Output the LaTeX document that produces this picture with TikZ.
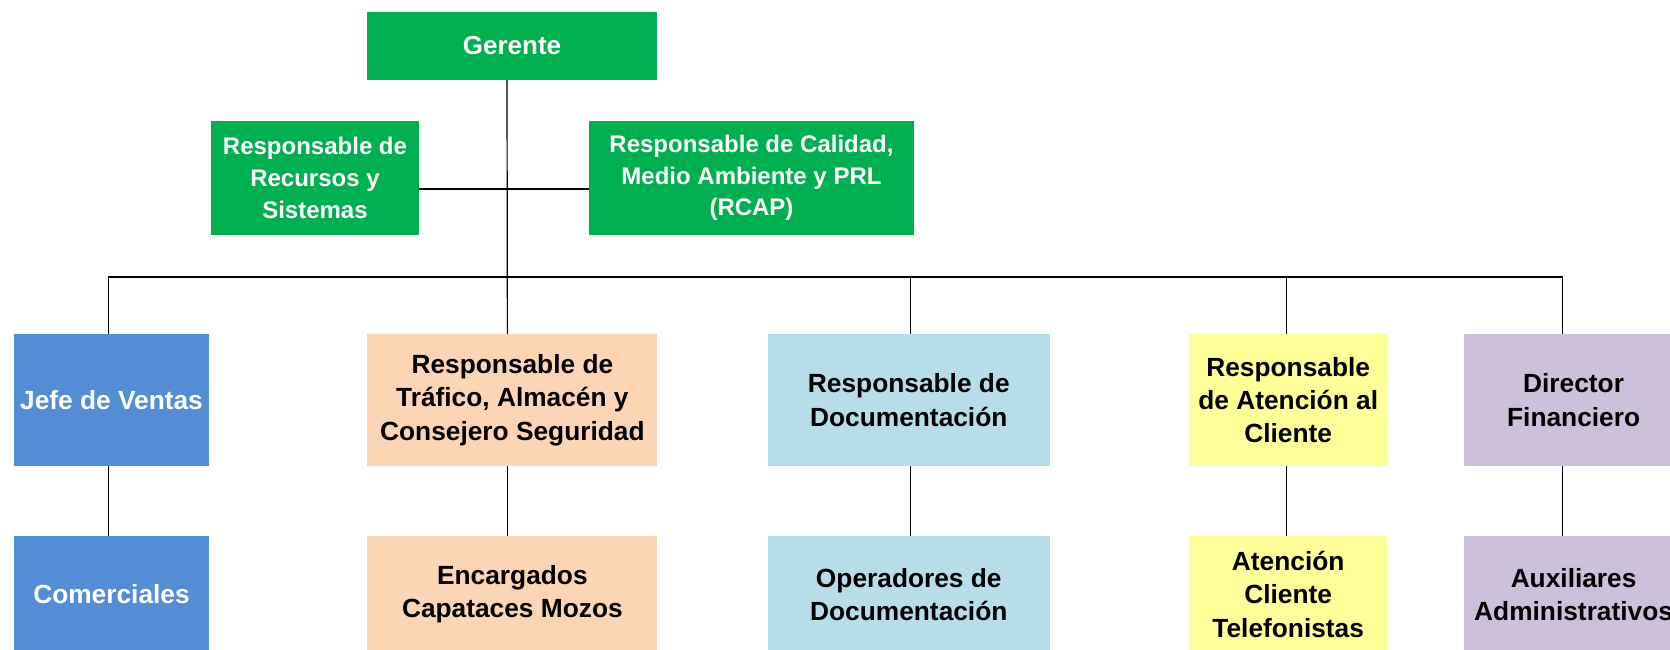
\documentclass[tikz,border=0pt]{standalone}
\usepackage{fontspec}
\setmainfont{Liberation Sans}
\usetikzlibrary{positioning}

\definecolor{verde}{HTML}{00B050}
\definecolor{azul}{HTML}{538DD5}
\definecolor{salmon}{HTML}{FCD5B4}
\definecolor{celeste}{HTML}{B7DEE8}
\definecolor{amarillo}{HTML}{FFFF99}
\definecolor{lila}{HTML}{CCC0DA}

\begin{document}
\begin{tikzpicture}[x=1pt, y=1pt, node distance=70pt, caja/.style={rectangle, inner sep=0pt, align=center, minimum height=132pt, font=\bfseries\fontsize{26.3}{33.3}\selectfont}, cajasup/.style={caja, fill=verde, text=white, minimum height=114pt, font=\bfseries\fontsize{24}{31.7}\selectfont}, cajainf/.style={caja, minimum height=116pt}, line/.style={draw, line width=1.2pt}]

        \useasboundingbox (0,0) rectangle (1670,-650);
        \clip (0,0) rectangle (1670,-650);

        \node [caja, fill=verde, text=white, minimum width=290pt, minimum height=68pt, font=\bfseries\fontsize{26}{31}\selectfont] (gerente) at (512,-46) {Gerente};
        \node [cajasup, minimum width=208pt] (recursos) at (315,-178) {Responsable de\\Recursos y\\Sistemas};
        \node [cajasup, minimum width=325pt] (rcap) at (751.5,-178) {Responsable de Calidad,\\Medio Ambiente y PRL\\(RCAP)};

        \node [caja, fill=azul, text=white, minimum width=195pt] (jefe) at (111.5,-400) {Jefe de Ventas};
        \node [caja, fill=salmon, minimum width=290pt, right=158pt of jefe] (trafico) {Responsable de\\Tráfico, Almacén y\\Consejero Seguridad};
        \node [caja, fill=celeste, minimum width=282pt, right=110pt of trafico] (docu) {Responsable de\\Documentación};
        \node [caja, fill=amarillo, minimum width=198pt, right=139pt of docu] (atencion) {Responsable\\de Atención al\\Cliente};
        \node [caja, fill=lila, minimum width=220pt, right=76pt of atencion] (director) {Director\\Financiero};

        \node [cajainf, fill=azul, text=white, minimum width=195pt, below=of jefe] (comerciales) {Comerciales};
        \node [cajainf, fill=salmon, minimum width=290pt, below=of trafico] (encargados) {Encargados\\Capataces Mozos};
        \node [cajainf, fill=celeste, minimum width=282pt, below=of docu] (operadores) {Operadores de\\Documentación};
        \node [cajainf, fill=amarillo, minimum width=198pt, below=of atencion] (telefonistas) {Atención\\Cliente\\Telefonistas};
        \node [cajainf, fill=lila, minimum width=220pt, below=of director] (auxiliares) {Auxiliares\\Administrativos};

        \coordinate (bus) at (0,-277);

        \draw[line] ([xshift=-5pt]gerente.south) -- ([xshift=-5pt]trafico.north);
        \draw[line] ([yshift=-11pt]recursos.east) -- ([yshift=-11pt]rcap.west);
        \draw[line] ([xshift=-3pt]jefe.north) |- ([xshift=-11pt]director.north |- bus) -- ([xshift=-11pt]director.north);
        \draw[line] ([xshift=2pt]docu.north |- bus) -- ([xshift=2pt]docu.north);
        \draw[line] ([xshift=-2pt]atencion.north |- bus) -- ([xshift=-2pt]atencion.north);

        \draw[line] ([xshift=-3pt]jefe.south) -- ([xshift=-3pt]comerciales.north);
        \draw[line] ([xshift=-5pt]trafico.south) -- ([xshift=-5pt]encargados.north);
        \draw[line] ([xshift=2pt]docu.south) -- ([xshift=2pt]operadores.north);
        \draw[line] ([xshift=-2pt]atencion.south) -- ([xshift=-2pt]telefonistas.north);
        \draw[line] ([xshift=-11pt]director.south) -- ([xshift=-11pt]auxiliares.north);

    \end{tikzpicture}
\end{document}
